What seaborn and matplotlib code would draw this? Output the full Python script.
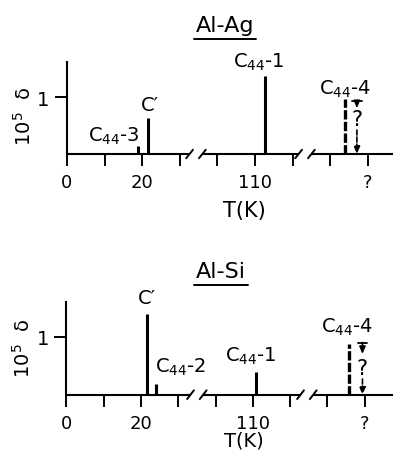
import matplotlib
matplotlib.use("Agg")
import matplotlib.pyplot as plt
import matplotlib.transforms as mtransforms
from matplotlib.lines import Line2D
import seaborn as sns

# ---------------- data ----------------
tick_pos = [0, 1, 2, 3, 4, 5, 6, 7, 8]
tick_labels = ["0", "", "20", "", "", "110", "", "", "?"]

ag_names = ["C$_{44}$-3", "C′", "C$_{44}$-1"]
ag_T = [18.8, 21.6, 112.7]
ag_delta = [0.135, 0.63, 1.37]
ag_c444_dT = -6.1        # K below the unknown "?" temperature
ag_c444_delta = 0.96
ag_limit_dT = -2.9
ag_limit_delta = 0.935

si_names = ["C′", "C$_{44}$-2", "C$_{44}$-1"]
si_T = [21.6, 24.0, 110.9]
si_delta = [1.39, 0.18, 0.40]
si_c444_dT = -4.1
si_c444_delta = 0.87
si_limit_dT = -0.6
si_limit_delta = 0.90

# ---------------- style ----------------
sns.set_theme(style="ticks")
plt.rcParams["font.family"] = ["DejaVu Sans"]
plt.rcParams["mathtext.fontset"] = "dejavusans"
plt.rcParams["mathtext.default"] = "regular"
for k in ("text.color", "axes.labelcolor", "xtick.color", "ytick.color",
          "axes.edgecolor"):
    plt.rcParams[k] = "black"


def axis_pos(T):
    # broken axis: 0-35 K, then 100-125 K segment
    return T / 10.0 if T < 60 else 4 + (T - 100) / 10.0


def unknown_pos(dT):
    return 8 + dT / 10.0


W, H = 394, 452
fig = plt.figure(figsize=(W / 100, H / 100), dpi=100)


def make_panel(rect, xmax, ymax, breaks, title, title_xy, ylab_xy, tlab,
               names, T, delta, offsets, c444_dT, c444_delta, c444_off,
               lim_dT, lim_delta, lim_parts):
    ax = fig.add_axes(rect)
    ax.set_xlim(0, xmax)
    ax.set_ylim(0, ymax)
    ax.set_facecolor("white")
    sns.despine(ax=ax, bottom=True)
    ax.spines["left"].set_linewidth(1.5)
    ax.spines["left"].set_color("black")

    # broken baseline
    g = 0.17
    segs = [0, breaks[0] - g, breaks[0] + g, breaks[1] - g, breaks[1] + g, xmax]
    for a, b in zip(segs[0::2], segs[1::2]):
        ax.plot([a, b], [0, 0], color="black", lw=1.5, clip_on=False,
                solid_capstyle="butt")
    sy = 0.075 * 1.6 / ymax
    for b in breaks:
        for xc in (b - g, b + g):
            ax.plot([xc - 0.09, xc + 0.09], [-sy, sy], color="black", lw=1.4,
                    clip_on=False)

    ax.set_xticks(tick_pos)
    ax.set_xticklabels(tick_labels)
    ax.set_yticks([1])
    ax.set_yticklabels(["1"])
    ax.tick_params(axis="x", direction="out", length=8.6, width=1.4,
                   labelsize=13, pad=5, colors="black")
    ax.tick_params(axis="y", direction="out", length=8.6, width=1.4,
                   labelsize=14, pad=4, colors="black")

    # peaks
    xs = [axis_pos(t) for t in T]
    ax.vlines(xs, 0, delta, color="black", lw=2.2)
    for nm, x, h, (dx, dy) in zip(names, xs, delta, offsets):
        ax.annotate(nm, xy=(x, h), xytext=(dx, dy), textcoords="offset points",
                    ha="center", va="bottom", fontsize=14)

    xc4 = unknown_pos(c444_dT)
    ax.vlines([xc4], 0, [c444_delta], color="black", lw=2.4,
              linestyles=[(0, (2.8, 0.7))])
    ax.annotate("C$_{44}$-4", xy=(xc4, c444_delta), xytext=c444_off,
                textcoords="offset points", ha="center", va="bottom",
                fontsize=14)

    # upper-limit marker with question mark
    xl = unknown_pos(lim_dT)
    f_arrow, f_q, f_low = lim_parts
    ax.plot([xl - 0.13, xl + 0.13], [lim_delta, lim_delta], color="black",
            lw=1.3)
    ax.annotate("", xy=(xl, lim_delta * f_arrow), xytext=(xl, lim_delta),
                arrowprops=dict(arrowstyle="-|>,head_width=0.15,head_length=0.35",
                                lw=1.2, color="black", shrinkA=0, shrinkB=0))
    ax.text(xl, lim_delta * f_q, "?", ha="center", va="center", fontsize=15)
    ax.annotate("", xy=(xl, 0), xytext=(xl, lim_delta * f_low),
                arrowprops=dict(arrowstyle="-|>,head_width=0.15,head_length=0.35",
                                lw=1.2, color="black", shrinkA=0, shrinkB=0,
                                linestyle=(0, (3, 1.2))))

    # x axis label, below the tick labels
    tx, ty, tfs = tlab
    ax.text(tx, 0, "T(K)", ha="center", va="top", fontsize=tfs,
            transform=ax.transData + mtransforms.ScaledTranslation(
                0, -ty / 100, fig.dpi_scale_trans))

    fig.text(ylab_xy[0] / W, 1 - ylab_xy[1] / H, "10$^5$  δ", rotation=90,
             ha="center", va="center", fontsize=14)

    tt = fig.text(title_xy[0] / W, 1 - title_xy[1] / H, title, ha="center",
                  va="baseline", fontsize=16)
    return ax, tt


ax1, t1 = make_panel(
    [67 / W, (H - 155) / H, (393 - 67) / W, 92 / H], (393 - 67) / 37.6,
    92 / 57, [3.43, 6.33], "Al-Ag", (225, 32), (24, 116), (4.73, 46, 15),
    ag_names, ag_T, ag_delta, [(-17, 0), (1.5, 3), (-5, 3)],
    ag_c444_dT, ag_c444_delta, (0, 0.5),
    ag_limit_dT, ag_limit_delta, (0.86, 0.65, 0.45))

ax2, t2 = make_panel(
    [66.3 / W, (H - 395.7) / H, (393 - 66.3) / W, 93 / H], (393 - 66.3) / 37.3,
    93 / 58, [3.5, 6.45], "Al-Si", (221, 278), (23, 348), (4.75, 36, 14),
    si_names, si_T, si_delta, [(0, 5), (18, 5.5), (-4, 4)],
    si_c444_dT, si_c444_delta, (-1.5, 5),
    si_limit_dT, si_limit_delta, (0.78, 0.52, 0.30))

# underline the titles
fig.canvas.draw()
r = fig.canvas.get_renderer()
for tt in (t1, t2):
    bb = tt.get_window_extent(r)
    ybase = tt.get_position()[1] * H - 8
    fig.add_artist(Line2D([(bb.x0 - 2) / W, (bb.x1 + 2) / W],
                          [ybase / H, ybase / H], transform=fig.transFigure,
                          color="black", lw=1.4))

fig.savefig("out.png", dpi=100, facecolor="white")
